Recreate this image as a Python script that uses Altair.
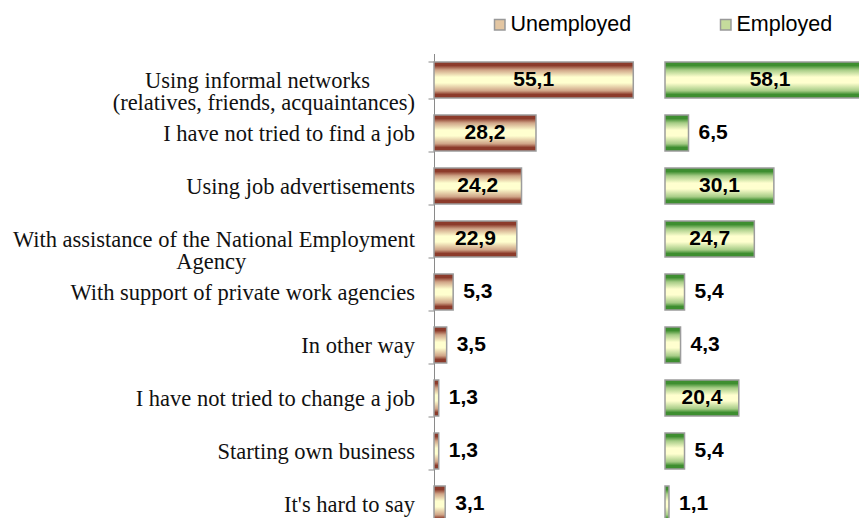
import altair as alt
import pandas as pd

NB = "\u00a0"
ZW = "\u200b"
categories = [
    "Using informal networks" + NB * 8 + ZW + "|(relatives, friends, acquaintances)",
    "I have not tried to find a job",
    "Using job advertisements",
    "With assistance of the National Employment|Agency" + NB * 30 + ZW,
    "With support of private work agencies",
    "In other way",
    "I have not tried to change a job",
    "Starting own business",
    "It's hard to say",
]
unemployed = [55.1, 28.2, 24.2, 22.9, 5.3, 3.5, 1.3, 1.3, 3.1]
employed = [58.1, 6.5, 30.1, 24.7, 5.4, 4.3, 20.4, 5.4, 1.1]
groups = ["Unemployed", "Employed"]

rows = []
for g, vals in zip(groups, [unemployed, employed]):
    for c, v in zip(categories, vals):
        rows.append({"cat": c, "group": g, "value": v,
                     "label": f"{v:.1f}".replace(".", ",")})
df = pd.DataFrame(rows)

STEP = 53
yaxis = alt.Axis(
    labelFont="Liberation Serif", labelFontSize=22.5, labelColor="#111",
    labelExpr="split(datum.label, '|')", labelLineHeight=22,
    labelPadding=13.5, tickSize=6, tickBand="extent", tickColor="#8a8a8a",
    domainColor="#8a8a8a", labelLimit=1000, grid=False, title=None,
)
y = alt.Y("cat:N", sort=categories, title=None, axis=yaxis,
          scale=alt.Scale(paddingInner=0.32, paddingOuter=0.16,
                          range=[0, STEP * len(categories)]))


def grad(edge, mid):
    return {
        "gradient": "linear", "x1": 0, "y1": 0, "x2": 0, "y2": 1,
        "stops": [
            {"offset": 0.0, "color": edge},
            {"offset": 0.1, "color": edge},
            {"offset": 0.22, "color": mid},
            {"offset": 0.42, "color": "#FFFFCF"},
            {"offset": 0.58, "color": "#FFFFCF"},
            {"offset": 0.8, "color": mid},
            {"offset": 0.9, "color": edge},
            {"offset": 1.0, "color": edge},
        ],
    }


def panel(name, x0, edge, mid, swatch, lx):
    base = alt.Chart(df).transform_filter(alt.datum.group == name)
    scale = alt.Scale(domain=[0, 60], range=[x0, x0 + 217], nice=False, zero=True)
    x = alt.X("value:Q", axis=None, scale=scale)
    bars = base.mark_bar(fill=grad(edge, mid), stroke="#9c9c9c",
                         strokeWidth=1.5).encode(x=x, y=y)
    leg = base.mark_point(shape="square", filled=True, opacity=0).encode(
        x=x, y=y,
        color=alt.Color("group:N", scale=alt.Scale(range=[swatch]),
                        legend=alt.Legend(
                            orient="none", legendX=lx, legendY=-39.5,
                            direction="horizontal", title=None,
                            symbolType="square", symbolSize=110,
                            symbolStrokeColor="#999", symbolStrokeWidth=1.5,
                            symbolOpacity=1, labelFont="Liberation Sans",
                            labelFontSize=21.5, labelColor="#000",
                            labelOffset=0, padding=0)))
    inside = base.transform_filter(alt.datum.value >= 15).transform_calculate(
        mid="datum.value / 2").mark_text(
        font="Liberation Sans", fontWeight="bold", fontSize=21, color="#000",
        align="center", baseline="middle").encode(
        x=alt.X("mid:Q", axis=None, scale=scale), y=y, text="label:N")
    outside = base.transform_filter(alt.datum.value < 15).mark_text(
        font="Liberation Sans", fontWeight="bold", fontSize=21, color="#000",
        align="left", baseline="middle", dx=10).encode(
        x=x, y=y, text="label:N")
    return [bars, leg, inside, outside]


layers = (panel("Unemployed", 0, "#8C3B2B", "#CFA487", "#E3C6A2", 55)
          + panel("Employed", 231, "#3E8E30", "#A6CC86", "#C5DC9C", 281))

chart = alt.layer(*layers).resolve_scale(
    x="independent", color="independent").resolve_legend(
    color="independent").properties(
    width=425, height=464.5,
    autosize=alt.AutoSizeParams(type="none"),
    padding={"left": 426, "top": 45.5, "right": 0, "bottom": 0},
).configure_view(stroke=None)

chart.save("out.html", embed_options={"renderer": "svg", "actions": False})
